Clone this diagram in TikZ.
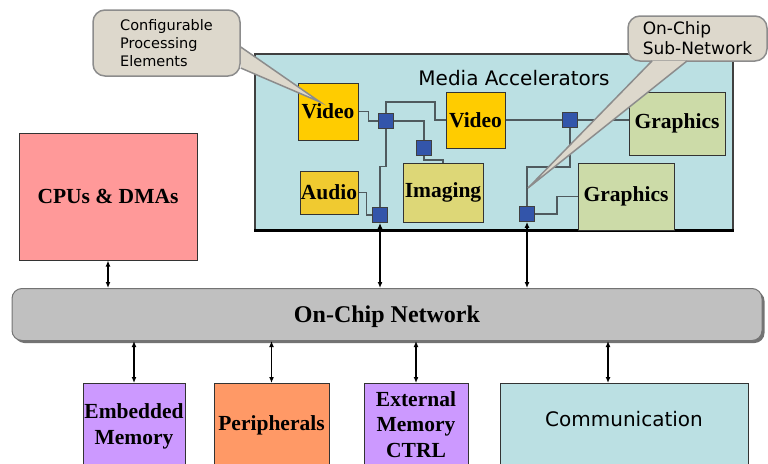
\documentclass[tikz,border=0pt]{standalone}
\usepackage{fontspec}
\setmainfont{Liberation Serif}
\setsansfont{DejaVu Sans}
\usetikzlibrary{arrows.meta,shadows}
\definecolor{mediabg}{HTML}{BBE0E3}
\definecolor{peyellow}{HTML}{FFCC00}
\definecolor{audioyellow}{HTML}{F0CA30}
\definecolor{imgolive}{HTML}{DDD777}
\definecolor{gfxgreen}{HTML}{CCDBA8}
\definecolor{swblue}{HTML}{3355AA}
\definecolor{cpured}{HTML}{FF9999}
\definecolor{memviolet}{HTML}{CC99FF}
\definecolor{periorange}{HTML}{FF9966}
\definecolor{busgray}{HTML}{C0C0C0}
\definecolor{bubblebg}{HTML}{DDD8CC}
\definecolor{wiregray}{HTML}{4F5A5E}

\tikzset{
  blk/.style={draw=black!80, line width=1pt, inner sep=0pt, align=center,
              font=\fontsize{21.5}{25.5}\selectfont\bfseries},
  pe/.style={blk, fill=peyellow},
  sw/.style={draw=black!75, fill=swblue, line width=0.8pt, minimum size=15, inner sep=0pt},
  wire/.style={draw=wiregray, line width=1.3pt},
  link/.style={{Latex[length=6pt,width=5pt]}-{Latex[length=6pt,width=5pt]}, line width=1.5pt},
  sanslabel/.style={font=\fontsize{20}{24}\sffamily},
  bubble/.style={fill=bubblebg, draw=black!45, line width=1.5pt},
}

\begin{document}
\begin{tikzpicture}[x=1pt,y=-1pt]
\clip (0,0) rectangle (768,463);

% media accelerators
\node[draw=black!75, fill=mediabg, line width=1.2pt, minimum width=478, minimum height=176](media) at (494,142) {};
\draw[line width=2.5pt] (media.south west) -- (media.south east);
\node[sanslabel](mediatxt) at (514,78) {Media Accelerators};

\node[pe, minimum width=60, minimum height=57](v1)  at (328,111.5) {Video};
\node[pe, minimum width=59, minimum height=56](v2)  at (475.5,120) {Video};
\node[blk, fill=audioyellow, minimum width=58, minimum height=43](audio) at (329,192.5) {Audio};
\node[blk, fill=imgolive, minimum width=80, minimum height=59](imaging) at (443,192.5) {Imaging};
\node[blk, fill=gfxgreen, minimum width=96, minimum height=63](g1) at (677,123.5) {Graphics};
\node[blk, fill=gfxgreen, minimum width=96, minimum height=67](g2) at (626,196.5) {Graphics};

\node[sw](s1) at (386,121) {};
\node[sw](s2) at (424,148) {};
\node[sw](s3) at (380,215) {};
\node[sw](s4) at (570,120) {};
\node[sw](s5) at (527,214) {};

% sub-network wires
\draw[wire] (v1.east) -- ++(10,0) |- (s1.west);
\draw[wire] (s1.north) |- (435,102) |- (v2.west);
\draw[wire] (s1.east) -| (s2.north);
\draw[wire] (s2.south) -- ++(0,4) -| (imaging.north);
\draw[wire] (s1.south) -- ++(0,37.5) -| (s3.north);
\draw[wire] (audio.east) -- ++(8,0) |- (s3.west);
\draw[wire] (v2.east) -- (s4.west);
\draw[wire] (s4.east) -- (s4.east -| g1.west);
\draw[wire] (s4.south) -- ++(0,39) -| (s5.north);
\draw[wire] (s5.east) -- ++(22,0) |- (g2.west);

% cpu and bus
\node[blk, fill=cpured, minimum width=178, minimum height=127](cpu) at (108,196.5) {CPUs \& DMAs};
\node[blk, draw=black!55, fill=busgray, rounded corners=10, minimum width=750, minimum height=52,
      font=\fontsize{24}{28}\selectfont\bfseries, text depth=0pt,
      drop shadow={shadow xshift=2.5pt, shadow yshift=-2.5pt, fill=black!55, opacity=1}](net) at (387,314.5) {On-Chip Network};

% bottom blocks
\node[blk, fill=memviolet, anchor=north, minimum width=102, minimum height=86](emb) at (134,383) {Embedded\\Memory};
\node[blk, fill=periorange, anchor=north, minimum width=115, minimum height=84](peri) at (271.5,383) {Peripherals};
\node[blk, fill=memviolet, anchor=north, minimum width=104, minimum height=82](ext) at (416,383) {External\\Memory\\CTRL};
\node[blk, fill=mediabg, anchor=north, minimum width=248, minimum height=90](comm) at (624,383) {};
\node[sanslabel](commtxt) at (624,419) {Communication};

% links to the bus
\draw[link] (cpu.south) -- (cpu.south |- net.north);
\draw[link] (s3.south) -- (s3.south |- net.north);
\draw[link] (s5.south) -- (s5.south |- net.north);
\draw[link] (net.south -| emb.north) -- (emb.north);
\draw[link] (net.south -| peri.north) -- (peri.north);
\draw[link] (net.south -| ext.north) -- (ext.north);
\draw[link] ([xshift=-16]comm.north |- net.south) -- ([xshift=-16]comm.north);

% callouts
\node[bubble, rounded corners=12, minimum width=147, minimum height=66, align=left,
      font=\fontsize{14.5}{18}\sffamily](cfg) at (166.5,43) {Configurable\\Processing\\Elements};
\coordinate (cfgtip) at (320,102);
\filldraw[bubble] ([yshift=-4]cfg.east) -- (cfgtip) -- ([yshift=-25]cfg.east);

\node[bubble, rounded corners=12, minimum width=139, minimum height=45, align=left,
      font=\fontsize{17}{20}\sffamily](sub) at (697.5,38.5) {On-Chip\\Sub-Network};
\coordinate (subtip) at (528,188);
\filldraw[bubble] ([xshift=-45.5,yshift=0.8]sub.south) -- (subtip) -- ([xshift=-10.5,yshift=0.8]sub.south);
\end{tikzpicture}
\end{document}
